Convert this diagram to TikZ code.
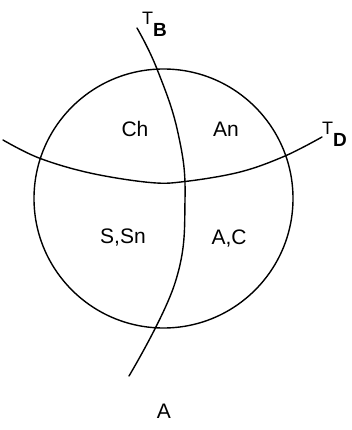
\documentclass[tikz,border=0pt]{standalone}
\usepackage{fontspec}
\setmainfont{Liberation Sans}

\tikzset{
  region/.style={font=\fontsize{21}{21}\selectfont, inner sep=0pt, anchor=base},
  tlabel/.style={font=\fontsize{18}{18}\selectfont, inner sep=0pt, anchor=base west},
  curve/.style={line width=1.4pt, line cap=round}
}
\newcommand{\sublbl}[1]{\raisebox{-12pt}{\fontsize{19}{19}\selectfont\bfseries #1}}

\begin{document}
\begin{tikzpicture}[x=1pt, y=-1pt]
	% рамка рисунка
	\useasboundingbox (0,0) rectangle (351,430);

	% параметры
	\def\R{129.5} % радиус круга

	% круг
	\draw[curve] (163.5,198.5) circle (\R);

	% граница T_B
	\draw[curve] plot[smooth, tension=0.7] coordinates {(137,28) (157,69) (178,133) (185,200) (175,283) (129,376)};

	% граница T_D
	\draw[curve] plot[smooth, tension=0.6] coordinates {(3,140) (39,158) (90,173) (150,182.5) (185,181.5) (240,172) (285,156) (322,137)};

	% подписи кривых
	\node[tlabel] (tb) at (142,25) {T\sublbl{B}};
	\node[tlabel] (td) at (322,135) {T\sublbl{D}};

	% области
	\node[region] (ch) at (135,137) {Ch};
	\node[region] (an) at (226,137) {An};
	\node[region] (ssn) at (123,243) {S,Sn};
	\node[region] (ac) at (229,244) {A,C};
	\node[region] (a) at (164,418) {A};
\end{tikzpicture}
\end{document}
